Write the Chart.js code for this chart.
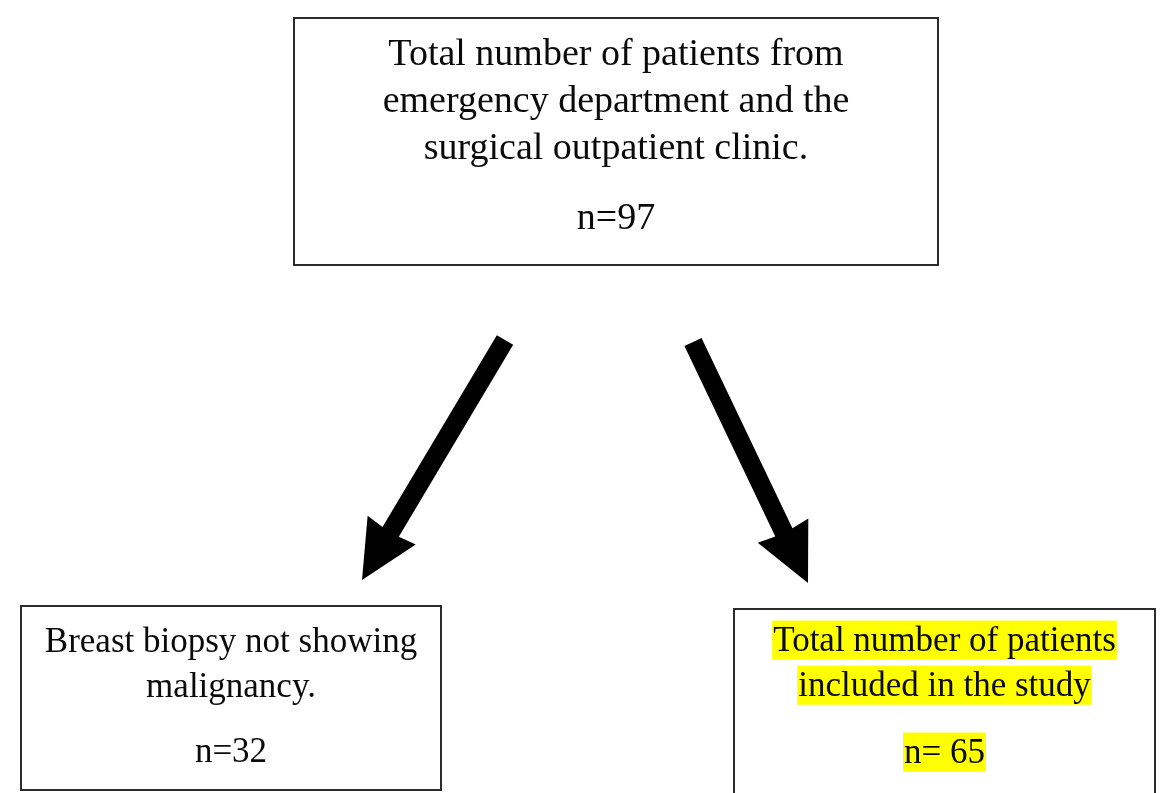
<!DOCTYPE html>
<html>
<head>
<meta charset="utf-8">
<script src="https://cdn.jsdelivr.net/npm/chart.js@4"></script>
<style>
html,body{margin:0;padding:0;background:#fff;}
#wrap{width:1171px;height:793px;}
</style>
</head>
<body>
<div id="wrap"><canvas id="c" width="1171" height="793"></canvas></div>
<script>
// ---- data ----
const boxNames = ['source', 'excluded', 'included'];
const boxLines = [
  ['Total number of patients from', 'emergency department and the', 'surgical outpatient clinic.'],
  ['Breast biopsy not showing', 'malignancy.'],
  ['Total number of patients', 'included in the study']
];
const boxCounts = [97, 32, 65];
const countPrefix = ['n=', 'n=', 'n= '];
const highlighted = [false, false, true];
const arrowLinks = [[0, 1], [0, 2]];

// ---- layout (in scale units: x 0..1171, y 0..793 top-down) ----
const boxRects = [
  {x0: 294, y0: 18, x1: 938, y1: 265},
  {x0: 21, y0: 606, x1: 441, y1: 790},
  {x0: 734, y0: 609, x1: 1155, y1: 805}
];
const textBaselines = [
  [65, 112, 159, 229],
  [652, 697, 762],
  [651, 696, 763]
];
const fontSizes = [38, 35, 35];
const arrowGeom = [
  {sx: 505, sy: 340, tx: 362, ty: 580},
  {sx: 693, sy: 342, tx: 808, ty: 583}
];

const flowPlugin = {
  id: 'flow',
  afterDatasetsDraw(chart) {
    const ctx = chart.ctx;
    const xs = chart.scales.x, ys = chart.scales.y;
    const X = v => xs.getPixelForValue(v);
    const Y = v => ys.getPixelForValue(v);
    ctx.save();
    // boxes
    boxRects.forEach((r, i) => {
      const x0 = X(r.x0), y0 = Y(r.y0), x1 = X(r.x1), y1 = Y(r.y1);
      ctx.fillStyle = '#ffffff';
      ctx.fillRect(x0, y0, x1 - x0, y1 - y0);
      ctx.strokeStyle = '#2b2b2b';
      ctx.lineWidth = 2;
      ctx.strokeRect(x0, y0, x1 - x0, y1 - y0);
      const cx = (x0 + x1) / 2;
      const fs = fontSizes[i];
      ctx.font = fs + 'px "Liberation Serif", "Times New Roman", serif';
      ctx.textAlign = 'center';
      ctx.textBaseline = 'alphabetic';
      const texts = boxLines[i].concat([countPrefix[i] + boxCounts[i]]);
      texts.forEach((t, j) => {
        const by = Y(textBaselines[i][j]);
        if (highlighted[i]) {
          const w = ctx.measureText(t).width;
          ctx.fillStyle = '#ffff00';
          ctx.fillRect(cx - w / 2 - 1, by - fs * 0.87, w + 2, fs * 1.12);
        }
        ctx.fillStyle = '#0a0a0a';
        ctx.fillText(t, cx, by);
      });
    });
    // arrows
    arrowLinks.forEach((lnk, k) => {
      const a = arrowGeom[k];
      const sx = X(a.sx), sy = Y(a.sy), tx = X(a.tx), ty = Y(a.ty);
      const dx = tx - sx, dy = ty - sy, L = Math.hypot(dx, dy);
      const ux = dx / L, uy = dy / L, nx = -uy, ny = ux;
      const headLen = 58, headHalf = 28, shaft = 19;
      const bx = tx - ux * headLen, by = ty - uy * headLen;
      ctx.fillStyle = '#000';
      ctx.beginPath();
      ctx.moveTo(sx + nx * shaft / 2, sy + ny * shaft / 2);
      ctx.lineTo(bx + ux * 2 + nx * shaft / 2, by + uy * 2 + ny * shaft / 2);
      ctx.lineTo(bx + nx * headHalf, by + ny * headHalf);
      ctx.lineTo(tx, ty);
      ctx.lineTo(bx - nx * headHalf, by - ny * headHalf);
      ctx.lineTo(bx + ux * 2 - nx * shaft / 2, by + uy * 2 - ny * shaft / 2);
      ctx.lineTo(sx - nx * shaft / 2, sy - ny * shaft / 2);
      ctx.closePath();
      ctx.fill();
    });
    ctx.restore();
  }
};

new Chart(document.getElementById('c'), {
  type: 'scatter',
  data: {
    datasets: [{
      label: 'nodes',
      data: boxNames.map((n, i) => ({x: (boxRects[i].x0 + boxRects[i].x1) / 2, y: (boxRects[i].y0 + boxRects[i].y1) / 2})),
      pointRadius: 0,
      showLine: false
    }]
  },
  options: {
    responsive: false,
    animation: false,
    devicePixelRatio: 1,
    layout: {padding: 0},
    plugins: {legend: {display: false}, tooltip: {enabled: false}, title: {display: false}},
    events: [],
    scales: {
      x: {type: 'linear', min: 0, max: 1171, display: false},
      y: {type: 'linear', min: 0, max: 793, reverse: true, display: false}
    }
  },
  plugins: [flowPlugin]
});
</script>
</body>
</html>
